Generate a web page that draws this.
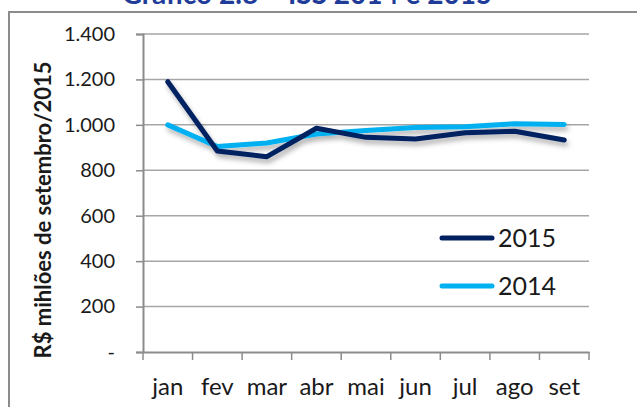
<!DOCTYPE html>
<html>
<head>
<meta charset="utf-8">
<script src="https://cdn.jsdelivr.net/npm/d3@7"></script>
<style>
  body { margin: 0; background: #fff; }
  svg { display: block; font-family: Lato, 'Open Sans', sans-serif; }
</style>
</head>
<body>
<div id="chart"></div>
<script>
const months = ['jan', 'fev', 'mar', 'abr', 'mai', 'jun', 'jul', 'ago', 'set']
const values2015 = [1190, 885, 860, 985, 945, 938, 965, 972, 933]
const values2014 = [1000, 905, 920, 960, 975, 988, 992, 1005, 1002]
const yTicks = [0, 200, 400, 600, 800, 1000, 1200, 1400]

const series = [
  { name: '2015', values: values2015, color: '#002060' },
  { name: '2014', values: values2014, color: '#00B0F0' }
]

const width = 637
const height = 407
const plot = { left: 143, right: 589, top: 34, bottom: 352 }

const svg = d3
  .select('#chart')
  .append('svg')
  .attr('width', width)
  .attr('height', height)

// soft shadow under the lines
const filter = svg
  .append('defs')
  .append('filter')
  .attr('id', 'shadow')
  .attr('x', '-10%')
  .attr('y', '-30%')
  .attr('width', '130%')
  .attr('height', '180%')
filter
  .append('feDropShadow')
  .attr('dx', 2)
  .attr('dy', 4)
  .attr('stdDeviation', 2.5)
  .attr('flood-color', '#000')
  .attr('flood-opacity', 0.3)

// title, cut off by the top edge (as in the original)
svg
  .append('text')
  .attr('x', 307)
  .attr('y', 4)
  .attr('text-anchor', 'middle')
  .attr('font-size', 28)
  .attr('font-weight', 'bold')
  .attr('fill', '#1F3C99')
  .text('Gráfico 2.8 – ISS 2014 e 2015')

// frame
svg
  .append('rect')
  .attr('x', 9)
  .attr('y', 12)
  .attr('width', 640)
  .attr('height', 410)
  .attr('fill', 'none')
  .attr('stroke', '#8c8c8c')
  .attr('stroke-width', 2)

const xScale = d3
  .scaleBand()
  .domain(months)
  .range([plot.left, plot.right])

const yScale = d3
  .scaleLinear()
  .domain([0, 1400])
  .range([plot.bottom, plot.top])

// gridlines
svg
  .append('g')
  .selectAll('line')
  .data(yTicks.filter(d => d > 0))
  .enter()
  .append('line')
  .attr('x1', plot.left)
  .attr('x2', plot.right)
  .attr('y1', d => yScale(d))
  .attr('y2', d => yScale(d))
  .attr('stroke', '#a6a6a6')
  .attr('stroke-width', 1.5)

const fmt = d => (d === 0 ? '-' : d3.format(',')(d).replace(',', '.'))

const yAxis = d3
  .axisLeft(yScale)
  .tickValues(yTicks)
  .tickFormat(fmt)
  .tickSize(7)
  .tickPadding(21)
const yG = svg
  .append('g')
  .attr('transform', 'translate(' + plot.left + ',0)')
  .call(yAxis)
yG.selectAll('line').attr('stroke', '#8c8c8c').attr('stroke-width', 1.5)
yG.select('.domain').attr('stroke', '#8c8c8c').attr('stroke-width', 2)
yG.selectAll('text')
  .attr('font-size', 20)
  .attr('font-family', 'Lato, sans-serif')
  .attr('fill', '#1a1a1a')

const xAxis = d3
  .axisBottom(xScale)
  .tickSize(0)
  .tickPadding(26)
const xG = svg
  .append('g')
  .attr('transform', 'translate(0,' + plot.bottom + ')')
  .call(xAxis)
xG.select('.domain').attr('stroke', '#8c8c8c').attr('stroke-width', 2)
xG.selectAll('text')
  .attr('font-size', 24)
  .attr('font-family', 'Lato, sans-serif')
  .attr('fill', '#1a1a1a')

// category boundary ticks
svg
  .append('g')
  .selectAll('line')
  .data(months.map(m => xScale(m)).concat([plot.right]))
  .enter()
  .append('line')
  .attr('x1', d => d)
  .attr('x2', d => d)
  .attr('y1', plot.bottom)
  .attr('y2', plot.bottom + 8)
  .attr('stroke', '#8c8c8c')
  .attr('stroke-width', 1.5)

// axis title
svg
  .append('text')
  .attr('transform', 'translate(51,210) rotate(-90)')
  .attr('text-anchor', 'middle')
  .attr('font-size', 22)
  .attr('font-weight', 'bold')
  .attr('fill', '#1a1a1a')
  .text('R$ mihlões de setembro/2015')

const line = d3
  .line()
  .x((d, i) => xScale(months[i]) + xScale.bandwidth() / 2)
  .y(d => yScale(d))

// draw 2014 on top of 2015
svg
  .append('g')
  .attr('filter', 'url(#shadow)')
  .selectAll('path')
  .data(series.slice().reverse())
  .enter()
  .append('path')
  .attr('d', d => line(d.values))
  .attr('fill', 'none')
  .attr('stroke', d => d.color)
  .attr('stroke-width', 5)
  .attr('stroke-linecap', 'round')
  .attr('stroke-linejoin', 'round')

// legend
const legend = svg
  .selectAll('.legend')
  .data(series)
  .enter()
  .append('g')
  .attr('class', 'legend')
  .attr('transform', (d, i) => 'translate(442,' + (238 + i * 48) + ')')

legend
  .append('line')
  .attr('x1', 0)
  .attr('x2', 50)
  .attr('stroke', d => d.color)
  .attr('stroke-width', 5)
  .attr('stroke-linecap', 'round')

legend
  .append('text')
  .attr('x', 56)
  .attr('y', 9)
  .attr('font-size', 25)
  .attr('fill', '#1a1a1a')
  .text(d => d.name)
</script>
</body>
</html>
